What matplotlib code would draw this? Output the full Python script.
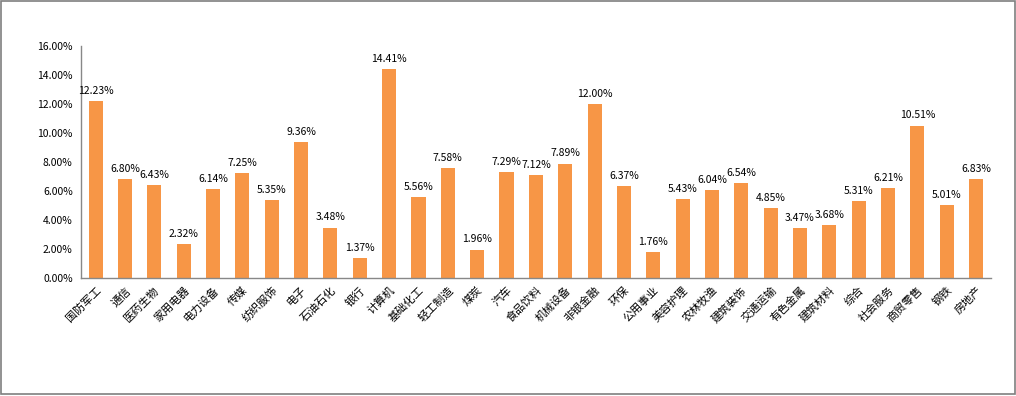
import matplotlib.pyplot as plt
from matplotlib.patches import Rectangle
from matplotlib.ticker import FuncFormatter

plt.rcParams['font.family'] = ['Noto Sans CJK SC', 'DejaVu Sans']

industries = ["国防军工", "通信", "医药生物", "家用电器", "电力设备", "传媒", "纺织服饰",
              "电子", "石油石化", "银行", "计算机", "基础化工", "轻工制造", "煤炭", "汽车",
              "食品饮料", "机械设备", "非银金融", "环保", "公用事业", "美容护理", "农林牧渔",
              "建筑装饰", "交通运输", "有色金属", "建筑材料", "综合", "社会服务", "商贸零售",
              "钢铁", "房地产"]
returns = [12.23, 6.80, 6.43, 2.32, 6.14, 7.25, 5.35, 9.36, 3.48, 1.37, 14.41, 5.56,
           7.58, 1.96, 7.29, 7.12, 7.89, 12.00, 6.37, 1.76, 5.43, 6.04, 6.54, 4.85,
           3.47, 3.68, 5.31, 6.21, 10.51, 5.01, 6.83]
yticks = [0, 2, 4, 6, 8, 10, 12, 14, 16]

fig = plt.figure(figsize=(10.16, 3.96), dpi=100)
ax = fig.add_axes([0.0797, 0.298, 0.8955, 0.586])

x = list(range(len(industries)))
bars = ax.bar(x, returns, width=0.48, color="#F79646")
for xi, v in zip(x, returns):
    ax.text(xi, v + 0.35, "%.2f%%" % v, ha="center", va="bottom", fontsize=7.5)

ax.set_xlim(-0.5, len(industries) - 0.5)
ax.set_ylim(0, 16)
ax.set_yticks(yticks)
ax.yaxis.set_major_formatter(FuncFormatter(lambda v, p: "%.2f%%" % v))
ax.set_xticks(x)
ax.set_xticklabels(industries, rotation=45, ha="right", rotation_mode="anchor", fontsize=8)
ax.tick_params(axis="y", length=0, labelsize=7.5, pad=6)
ax.tick_params(axis="x", length=0, pad=5)

for s in ["top", "right"]:
    ax.spines[s].set_visible(False)
for s in ["left", "bottom"]:
    ax.spines[s].set_color("#888888")
    ax.spines[s].set_linewidth(1)

# grey frame round the whole chart
fig.patches.append(Rectangle((0.001, 0.004), 0.998, 0.994, transform=fig.transFigure,
                             fill=False, edgecolor="#7f7f7f", linewidth=1.2))

fig.savefig("out.png", dpi=100)
